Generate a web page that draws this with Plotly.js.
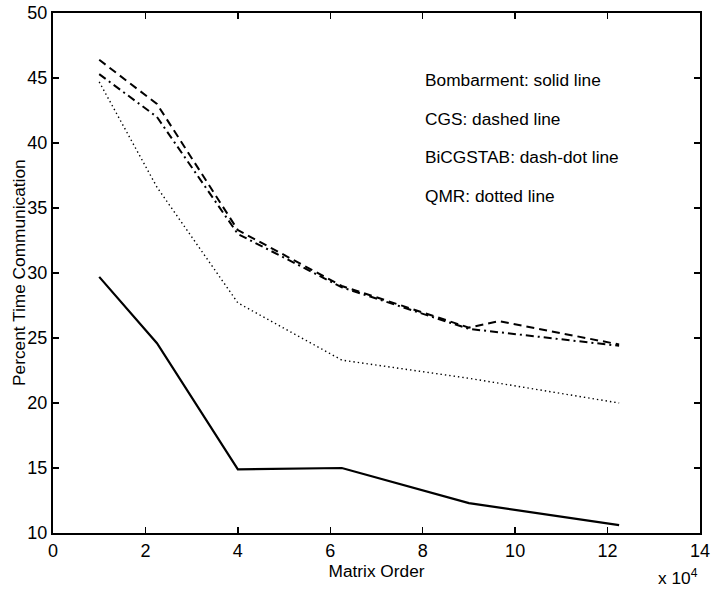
<!DOCTYPE html>
<html>
<head>
<meta charset="utf-8">
<script src="https://cdn.plot.ly/plotly-3.0.1.min.js"></script>
<style>
  html, body { margin: 0; padding: 0; background: #fff; }
  #chart { width: 712px; height: 589px; }
</style>
</head>
<body>
<div id="chart"></div>
<script>
// Matrix order in units of 10^4
const orderBombarment = [1, 2.25, 4, 6.25, 9, 12.25];
const orderCGS = [1, 2.25, 4, 6.25, 9, 9.65, 12.25];
const orderBiCGSTAB = [1, 2.25, 4, 6.25, 9, 12.25];
const orderQMR = [1, 2.25, 4, 6.25, 9, 12.25];

// Percent of time spent in communication
const pctBombarment = [29.7, 24.6, 14.9, 15.0, 12.3, 10.6];
const pctCGS = [46.4, 43.0, 33.3, 29.0, 25.8, 26.3, 24.5];
const pctBiCGSTAB = [45.3, 42.0, 33.0, 28.9, 25.7, 24.4];
const pctQMR = [44.7, 36.6, 27.7, 23.3, 21.9, 20.0];

const xTicks = [0, 2, 4, 6, 8, 10, 12, 14];
const yTicks = [10, 15, 20, 25, 30, 35, 40, 45, 50];

const noteLines = [
  'Bombarment: solid line',
  'CGS: dashed line',
  'BiCGSTAB: dash-dot line',
  'QMR: dotted line'
];
const noteY = [44.85, 41.85, 38.9, 35.9];

const font = 'Liberation Sans, Arial, Helvetica, sans-serif';
const textFont = { family: font, size: 17.3, color: '#000' };

const traces = [
  { x: orderBombarment, y: pctBombarment, name: 'Bombarment',
    line: { color: '#000', width: 2.2, dash: 'solid' } },
  { x: orderCGS, y: pctCGS, name: 'CGS',
    line: { color: '#000', width: 2, dash: '8px,5px' } },
  { x: orderBiCGSTAB, y: pctBiCGSTAB, name: 'BiCGSTAB',
    line: { color: '#000', width: 2, dash: '8px,4px,2px,4px' } },
  { x: orderQMR, y: pctQMR, name: 'QMR',
    line: { color: '#000', width: 1.4, dash: '1.4px,3px' } }
].map(t => Object.assign({ type: 'scatter', mode: 'lines', hoverinfo: 'skip' }, t));

const axisCommon = {
  showgrid: false,
  zeroline: false,
  showline: true,
  linecolor: '#000',
  linewidth: 2,
  mirror: 'ticks',
  ticks: 'inside',
  ticklen: 6,
  tickwidth: 1.5,
  tickcolor: '#000',
  tickfont: { family: font, size: 18, color: '#000' }
};

const annotations = noteLines.map((t, i) => ({
  x: 8.0, y: noteY[i], xref: 'x', yref: 'y',
  text: t, showarrow: false, xanchor: 'left', yanchor: 'middle',
  font: textFont
}));
// exponent of the x axis
annotations.push({
  x: 1, y: 0, xref: 'paper', yref: 'paper', yshift: -44,
  text: 'x 10<sup>4</sup>', showarrow: false, xanchor: 'right', yanchor: 'middle',
  font: textFont
});
// y axis title
annotations.push({
  x: 0, y: 0.5, xref: 'paper', yref: 'paper', xshift: -34,
  text: 'Percent Time Communication', textangle: -90, showarrow: false,
  xanchor: 'center', yanchor: 'middle', font: textFont
});

const layout = {
  width: 712,
  height: 589,
  margin: { l: 53, r: 12, t: 13, b: 56 },
  paper_bgcolor: '#fff',
  plot_bgcolor: '#fff',
  showlegend: false,
  xaxis: Object.assign({}, axisCommon, {
    range: [0, 14], tickvals: xTicks,
    title: { text: 'Matrix Order', standoff: 0, font: textFont }
  }),
  yaxis: Object.assign({}, axisCommon, {
    range: [10, 50], tickvals: yTicks
  }),
  annotations: annotations
};

Plotly.newPlot('chart', traces, layout, { staticPlot: true, displayModeBar: false });
</script>
</body>
</html>
